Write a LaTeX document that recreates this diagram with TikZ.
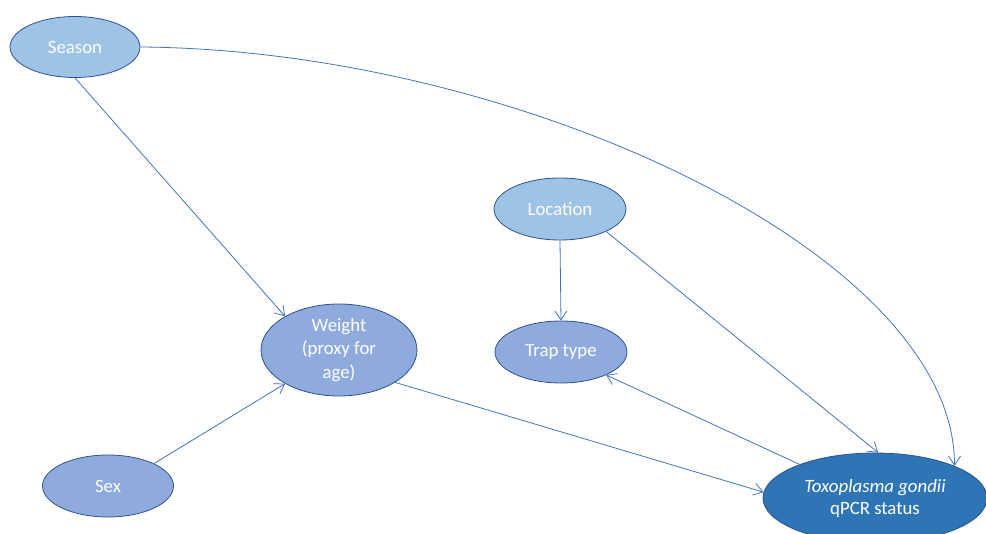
\documentclass[tikz,border=0pt]{standalone}
\usepackage{fontspec}
\setmainfont{Carlito}
\usetikzlibrary{arrows.meta,shapes.geometric}
\definecolor{lightfill}{HTML}{9DC3E6}
\definecolor{midfill}{HTML}{8FAADC}
\definecolor{darkfill}{HTML}{2E75B6}
\definecolor{edgeblue}{HTML}{2F528F}
\definecolor{arrowblue}{HTML}{4472C4}
\tikzset{
  var/.style={ellipse, draw=edgeblue, line width=0.8pt, inner sep=0pt, text=white,
    font=\fontsize{18.8}{23.5}\selectfont, align=center},
  conn/.style={draw=arrowblue, line width=0.8pt, -{Straight Barb[length=9pt,width=12pt]}}
}
\begin{document}
\begin{tikzpicture}[x=1pt,y=1pt]
\useasboundingbox (0,0) rectangle (986,-534);
\clip (0,0) rectangle (986,-534);
\node[var, fill=lightfill, minimum width=130pt, minimum height=61pt] (season) at (75,-47) {Season};
\node[var, fill=lightfill, minimum width=132pt, minimum height=62pt] (loc) at (560,-209) {Location};
\node[var, fill=midfill, minimum width=132pt, minimum height=62pt] (trap) at (561,-352) {Trap type};
\node[var, fill=midfill, minimum width=156pt, minimum height=92pt] (weight) at (339,-350) {Weight\\(proxy for\\age)};
\node[var, fill=midfill, minimum width=131pt, minimum height=62pt] (sex) at (108,-486) {Sex};
\node[var, fill=darkfill, minimum width=224pt, minimum height=90pt, font=\fontsize{18.8}{22}\selectfont] (toxo) at (875,-498) {\textit{Toxoplasma gondii}\\qPCR status};
\draw[conn] (season.south) -- (weight.148);
\draw[conn] (season.east) .. controls (520,-50) and (955,-255) .. (toxo.22);
\draw[conn] (loc.south) -- (trap.north);
\draw[conn] (loc.334) -- (toxo.86);
\draw[conn] (weight.330) -- (toxo.177);
\draw[conn] (toxo.156) -- (trap.333);
\draw[conn] (sex.26) -- (weight.212);
\end{tikzpicture}
\end{document}
